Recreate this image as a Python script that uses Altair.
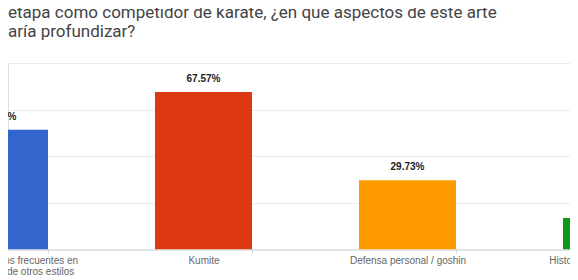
import altair as alt
import pandas as pd

# ---- data ----
categories = [
    "Katas y kihon menos frecuentes en\ndel estilo propio o de otros estilos",
    "Kumite",
    "Defensa personal / goshin",
    "Historia y filosofía del karate",
]
values = [51.35, 67.57, 29.73, 13.51]
colors = ["#3366cc", "#dc3912", "#ff9900", "#109618"]
title_lines = [
    "etapa como competidor de karate, ¿en que aspectos de este arte",
    "aría profundizar?",
]

df = pd.DataFrame({"cat": categories, "value": values, "color": colors})

x_enc = alt.X(
    "cat:N",
    sort=categories,
    scale=alt.Scale(range=[-110.5, 705.5], paddingInner=0.5245, paddingOuter=0.26225),
    axis=alt.Axis(
        title=None,
        labelAngle=0,
        tickBand="extent",
        domainColor="#d6dbe4",
        tickColor="#d6dbe4",
        tickSize=4,
        labelPadding=2,
        labelColor="#666666",
        labelFont="Arial",
        labelFontSize=10,
        labelLineHeight=10.5,
        labelOverlap=False,
        labelBound=False,
        labelFlush=False,
        labelLimit=400,
        labelExpr="split(datum.label, '\\n')",
    ),
)
y_enc = alt.Y(
    "value:Q",
    scale=alt.Scale(domain=[0, 80], nice=False),
    axis=alt.Axis(
        title=None,
        values=[0, 20, 40, 60, 80],
        labels=False,
        ticks=False,
        domain=False,
        grid=True,
        gridColor="#ebebeb",
        gridWidth=1,
    ),
)

bars = alt.Chart(df).mark_bar(clip=True).encode(
    x=x_enc,
    y=y_enc,
    color=alt.Color("color:N", scale=None),
)

labels = alt.Chart(df).transform_calculate(
    lab="format(datum.value, '.2f') + '%'"
).mark_text(
    clip=True,
    baseline="bottom",
    dy=-8,
    font="Arial",
    fontSize=10,
    fontWeight="bold",
    color="#222222",
).encode(
    x=alt.X("cat:N", sort=categories),
    y="value:Q",
    text="lab:N",
)

chart = (
    alt.layer(bars, labels)
    .properties(
        width=562,
        height=186.5,
        autosize=alt.AutoSizeParams(type="none"),
        padding={"left": 0, "top": 55, "right": 0, "bottom": 30.5},
        title=alt.TitleParams(
            text=title_lines,
            anchor="start",
            frame="group",
            dx=0,
            offset=22,
            font="Roboto",
            fontSize=17,
            fontWeight="normal",
            color="#444444",
            lineHeight=19,
        ),
    )
    .configure_view(stroke=None)
    .configure(background="white")
)

chart.save("out.html", embed_options={"renderer": "svg", "actions": False})
